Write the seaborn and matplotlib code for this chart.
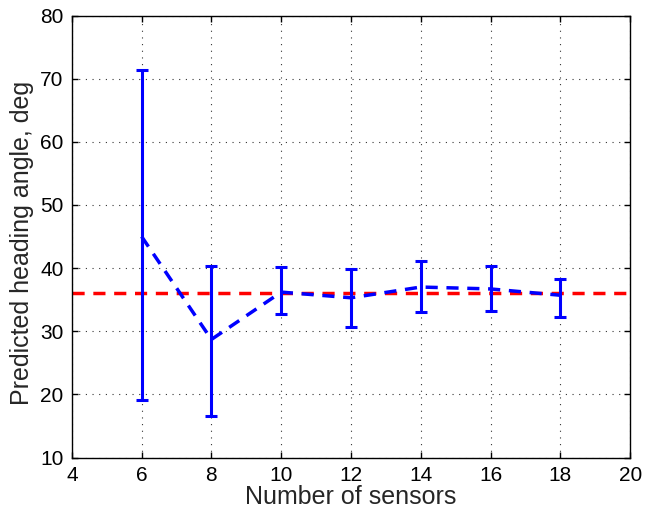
import numpy as np
import pandas as pd
import matplotlib
matplotlib.use("Agg")
import matplotlib.pyplot as plt
import seaborn as sns

sensors = [6, 8, 10, 12, 14, 16, 18]
mean_angle = [45.0, 28.7, 36.2, 35.3, 37.0, 36.7, 35.7]
upper = [71.3, 40.4, 40.2, 39.8, 41.2, 40.4, 38.3]
lower = [19.1, 16.6, 32.7, 30.6, 33.0, 33.2, 32.3]
true_angle = 36.0

sns.set_style("white")
plt.rcParams['font.family'] = ['Liberation Sans', 'DejaVu Sans']

fig = plt.figure(figsize=(6.47, 5.17), dpi=100)
ax = fig.add_axes([0.111, 0.115, 0.863, 0.855])

df = pd.DataFrame({"sensors": sensors, "mean": mean_angle})
m = np.array(mean_angle)
yerr = [m - np.array(lower), np.array(upper) - m]
ax.errorbar(sensors, mean_angle, yerr=yerr, fmt='none', ecolor='#0000ff',
            elinewidth=2.2, capsize=4, capthick=2.2, zorder=3)
sns.lineplot(data=df, x="sensors", y="mean", ax=ax, color='#0000ff',
             linewidth=2.5, linestyle=(0, (3.5, 2.5)), zorder=4)
ax.axhline(true_angle, color='#ff0000', linewidth=2.5, linestyle=(0, (3.5, 2.5)), zorder=2)

ax.set_xlim(4, 20)
ax.set_ylim(10, 80)
ax.set_xticks(range(4, 21, 2))
ax.set_yticks(range(10, 81, 10))
ax.grid(True, color='black', linestyle=(0, (1, 5)), linewidth=0.8, alpha=0.8)
for s in ax.spines.values():
    s.set_visible(True)
    s.set_color('black')
    s.set_linewidth(1.0)
ax.tick_params(direction='in', length=4, width=1, labelsize=15, colors='black',
               top=True, right=True, left=True, bottom=True, pad=6)
ax.set_xlabel("Number of sensors", fontsize=18, labelpad=0)
ax.set_ylabel("Predicted heading angle, deg", fontsize=18)
ax.yaxis.set_label_coords(-0.068, 0.485)

fig.savefig("out.png", dpi=100)
